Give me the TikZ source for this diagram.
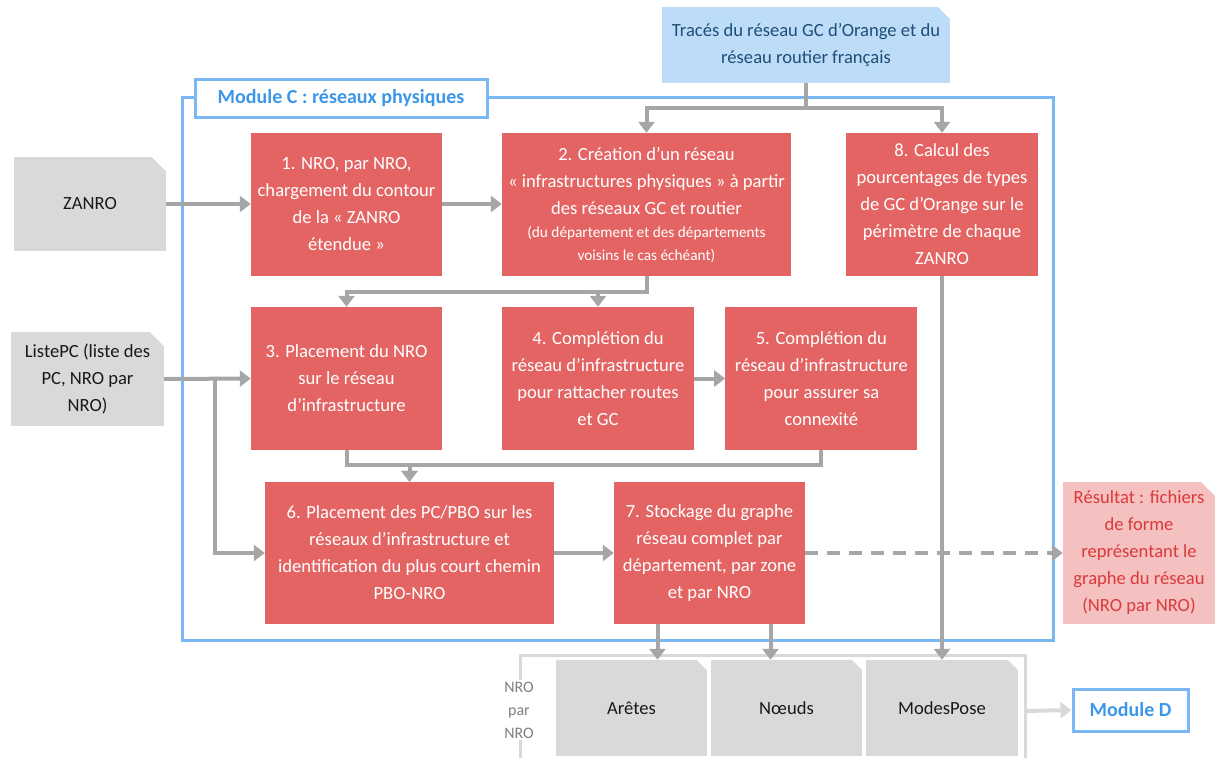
\documentclass[tikz,border=0pt]{standalone}
\usepackage{fontspec}
\setmainfont{Carlito}
\usetikzlibrary{positioning, arrows.meta, calc}
\definecolor{stepred}{HTML}{E46464}
\definecolor{filegray}{HTML}{D9D9D9}
\definecolor{flowgray}{HTML}{A6A6A6}
\definecolor{modblue}{HTML}{7AB8F4}
\definecolor{modtext}{HTML}{3D97E8}
\definecolor{srcblue}{HTML}{BDDCF7}
\definecolor{srctext}{HTML}{1F4E79}
\definecolor{respink}{HTML}{F4C0C0}
\definecolor{restext}{HTML}{DC3A3A}
\definecolor{nrogray}{HTML}{7F7F7F}

\begin{document}
\begin{tikzpicture}[
  x=1pt, y=-1pt,
  font=\fontsize{18.6}{27}\selectfont,
  stepbox/.style={
    fill=stepred, text=white, minimum height=143pt, inner sep=4pt,
    align=center
  },
  filebox/.style={
    fill=filegray, text=black!90, inner sep=4pt, align=center,
    path picture={\fill[white] ([xshift=-#1]path picture bounding box.north east)
      -| ([yshift=-#1]path picture bounding box.north east) -- cycle;}
  },
  filebox/.default=14pt,
  modframe/.style={draw=modblue, line width=3pt},
  modlabel/.style={
    draw=modblue, line width=3pt, fill=white, text=modtext, inner sep=4pt,
    font=\fontsize{20}{27}\selectfont\bfseries
  },
  flow/.style={-{Triangle[length=11pt, width=16pt]}, draw=flowgray, line width=4pt},
  softflow/.style={-{Triangle[length=11pt, width=16pt]}, draw=filegray, line width=4pt},
  bracket/.style={draw=filegray, line width=3pt},
]
\useasboundingbox (0,0) rectangle (1215,758);

\draw[modframe] (182,97) rectangle (1053,640);
\node[modlabel, minimum width=292pt, minimum height=38pt] (modc) at (341,98) {Module C : réseaux physiques};

\node[filebox=12pt, fill=srcblue, text=srctext, minimum width=288pt, minimum height=76pt] (trace) at (806,45)
  {Tracés du réseau GC d’Orange et du\\ réseau routier français};
\node[filebox, minimum width=152pt, minimum height=94pt] (zanro) at (90,204) {ZANRO};
\node[filebox, minimum width=153pt, minimum height=94pt] (listepc) at (87.5,379)
  {ListePC (liste des\\ PC, NRO par\\ NRO)};

\node[stepbox, minimum width=191pt] (b1) at (346.5,204.5)
  {1. NRO, par NRO,\\ chargement du contour\\ de la « ZANRO\\ étendue »};
\node[stepbox, minimum width=289pt] (b2) at (646.5,204.5)
  {2. Création d’un réseau\\ « infrastructures physiques » à partir\\ des réseaux GC et routier\\[-4pt]
   {\fontsize{15.3}{23}\selectfont (du département et des départements}\\[-4pt]
   {\fontsize{15.3}{23}\selectfont voisins le cas échéant)}};
\node[stepbox, minimum width=192pt] (b8) at (942,204.5)
  {8. Calcul des\\ pourcentages de types\\ de GC d’Orange sur le\\ périmètre de chaque\\ ZANRO};
\node[stepbox, minimum width=191pt] (b3) at (346.5,378.5)
  {3. Placement du NRO\\ sur le réseau\\ d’infrastructure};
\node[stepbox, minimum width=192pt] (b4) at (598,378.5)
  {4. Complétion du\\ réseau d’infrastructure\\ pour rattacher routes\\ et GC};
\node[stepbox, minimum width=192pt, right=31pt of b4] (b5)
  {5. Complétion du\\ réseau d’infrastructure\\ pour assurer sa\\ connexité};
\node[stepbox, minimum width=289pt, minimum height=142pt] (b6) at (409.5,553)
  {6. Placement des PC/PBO sur les\\ réseaux d’infrastructure et\\ identification du plus court chemin\\ PBO-NRO};
\node[stepbox, minimum width=191pt, minimum height=142pt] (b7) at (709.5,553)
  {7. Stockage du graphe\\ réseau complet par\\ département, par zone\\ et par NRO};
\node[filebox, fill=respink, text=restext, minimum width=152pt, minimum height=142pt] (result) at (1139,553)
  {Résultat : fichiers\\ de forme\\ représentant le\\ graphe du réseau\\ (NRO par NRO)};

\coordinate (brkl) at (520,758);
\coordinate (brkr) at (1025,758);
\coordinate (brkout) at (1025,711);
\draw[bracket] (brkl) -- ++(0,-103) -| (brkr);
\node[fill=white, text=nrogray, align=center, inner sep=2pt, font=\fontsize{16}{23}\selectfont] (nro) at (519,710) {NRO\\ par\\ NRO};
\node[filebox=10pt, minimum width=151pt, minimum height=96pt] (aretes) at (631.5,708) {Arêtes};
\node[filebox=10pt, minimum width=151pt, minimum height=96pt] (noeuds) at (786.5,708) {Nœuds};
\node[filebox=10pt, minimum width=152pt, minimum height=96pt] (modes) at (942,708) {ModesPose};
\node[modlabel, minimum width=115pt, minimum height=42pt] (modd) at (1130.5,710) {Module D};

\draw[flow] (zanro.east) -- (b1.west |- zanro.east);
\draw[flow] (b1.east |- zanro.east) -- (b2.west |- zanro.east);
\draw[flow] (trace.south) -- ++(0,25) -| (b2.north);
\draw[flow] (trace.south) -- ++(0,25) -| (b8.north);
\draw[flow] (b2.south) -- ++(0,16) -| (b3.north);
\draw[flow] (b2.south) -- ++(0,16) -| (b4.north);
\coordinate (lsplit) at (215,379);
\draw[flow] (listepc.east) -- (b3.west);
\draw[flow] (lsplit) |- (b6.west);
\draw[flow] (b4) -- (b5);
\draw[flow] (b3.south) -- ++(0,15) -| (b6.north);
\draw[flow] (b5.south) -- ++(0,15) -| (b6.north);
\draw[flow] (b6) -- (b7);
\draw[flow, dash pattern=on 13pt off 9pt] (b7) -- (result);
\draw[flow] (b8) -- (modes);
\coordinate (b7l) at ([xshift=-52pt]b7.south);
\coordinate (b7r) at ([xshift=61pt]b7.south);
\draw[flow] (b7l) -- (b7l |- aretes.north);
\draw[flow] (b7r) -- (b7r |- noeuds.north);
\draw[softflow] (brkout) -- (modd.west);

\end{tikzpicture}
\end{document}
